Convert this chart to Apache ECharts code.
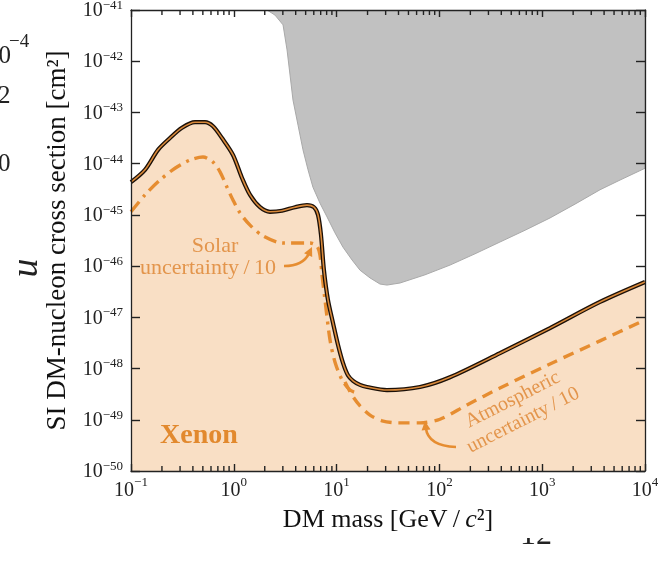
<!DOCTYPE html>
<html><head><meta charset="utf-8">
<script src="https://cdn.jsdelivr.net/npm/echarts@6/dist/echarts.min.js"></script>
<style>html,body{margin:0;padding:0;background:#fff}#c{width:658px;height:561px}</style>
</head><body><div id="c"></div>
<script>
// ---- data (log10 of mass in GeV/c^2, log10 of cross section in cm^2) ----
const xenonLogMass  = [-1.000,-0.864,-0.737,-0.621,-0.504,-0.377,-0.280,-0.202,-0.115,-0.008,0.080,0.158,0.255,0.352,0.469,0.595,0.712,0.780,0.819,0.848,0.877,0.916,0.965,1.014,1.062,1.110,1.160,1.228,1.296,1.490,1.811,2.103,2.589,3.076,3.562,4.000];
const xenonLogSigma = [-44.36,-44.12,-43.73,-43.50,-43.30,-43.19,-43.19,-43.27,-43.50,-43.83,-44.28,-44.61,-44.85,-44.94,-44.92,-44.85,-44.81,-44.85,-45.00,-45.39,-46.08,-46.66,-47.11,-47.54,-47.89,-48.13,-48.24,-48.32,-48.36,-48.42,-48.36,-48.17,-47.70,-47.21,-46.70,-46.31];

const solarLogMass  = [-1.000,-0.864,-0.718,-0.572,-0.426,-0.300,-0.202,-0.134,-0.066,-0.008,0.060,0.158,0.284,0.479,0.644,0.741,0.809,0.838,0.858,0.887,0.936,0.984,1.053,1.130,1.208];
const solarLogSigma = [-44.94,-44.61,-44.32,-44.09,-43.93,-43.87,-43.97,-44.16,-44.46,-44.71,-44.96,-45.20,-45.41,-45.55,-45.55,-45.55,-45.61,-45.78,-46.17,-46.66,-47.44,-47.87,-48.22,-48.42,-48.48];

const atmoLogMass  = [1.082,1.150,1.228,1.325,1.442,1.588,1.811,2.006,2.268,2.589,3.076,3.562,4.000];
const atmoLogSigma = [-48.26,-48.52,-48.73,-48.91,-49.02,-49.06,-49.06,-48.99,-48.71,-48.38,-47.91,-47.46,-47.05];

const limitLogMass  = [0.323,0.401,0.479,0.518,0.547,0.576,0.625,0.673,0.722,0.770,0.838,0.907,0.984,1.062,1.150,1.228,1.325,1.422,1.490,1.617,1.860,2.103,2.346,2.589,2.833,3.076,3.319,3.562,3.757,4.000];
const limitLogSigma = [-41.00,-41.10,-41.29,-41.78,-42.27,-42.76,-43.25,-43.73,-44.12,-44.46,-44.77,-45.04,-45.35,-45.63,-45.88,-46.08,-46.23,-46.35,-46.37,-46.33,-46.17,-45.98,-45.76,-45.53,-45.30,-45.06,-44.79,-44.51,-44.32,-44.09];

const xRangeExp = [-1, 4];     // 10^-1 ... 10^4 GeV/c^2
const yRangeExp = [-50, -41];  // 10^-50 ... 10^-41 cm^2
const minorMultipliers = [2,3,4,5,6,7,8,9];

// The y axis is plotted in units of 10^-50 cm^2 (keeps numbers well inside float precision);
// tick labels are converted back to cm^2.
const Y_UNIT_EXP = yRangeExp[0];
const toX = lx => Math.pow(10, lx);
const toY = ly => Math.pow(10, ly - Y_UNIT_EXP);
const pairs = (lx, ly) => lx.map((v, i) => [toX(v), toY(ly[i])]);
const xMin = toX(xRangeExp[0]), xMax = toX(xRangeExp[1]);
const yMin = toY(yRangeExp[0]), yMax = toY(yRangeExp[1]);
const minorX = [];
for (let e = xRangeExp[0]; e < xRangeExp[1]; e++) minorMultipliers.forEach(m => minorX.push(m * Math.pow(10, e)));

const SERIF = '"Liberation Serif", "DejaVu Serif", serif';
const supLabel = e => '{b|10}{s|' + (e < 0 ? '\u2212' : '') + Math.abs(e) + '}';
const xLabel = v => supLabel(Math.round(Math.log10(v)));
const yLabel = v => supLabel(Math.round(Math.log10(v)) + Y_UNIT_EXP);
const richX = { b: {fontFamily: SERIF, fontSize: 20, color: '#222', lineHeight: 25, verticalAlign: 'bottom'},
                s: {fontFamily: SERIF, fontSize: 13, color: '#222', lineHeight: 15, verticalAlign: 'top'} };
const richY = { b: {fontFamily: SERIF, fontSize: 20, color: '#222', lineHeight: 22, verticalAlign: 'bottom'},
                s: {fontFamily: SERIF, fontSize: 13, color: '#222', lineHeight: 14, verticalAlign: 'top'} };

const ORANGE = '#e68d31';
const AX = '#222';

const chart = echarts.init(document.getElementById('c'), null, {renderer: 'canvas', width: 658, height: 561});

const axisCommon = {
  type: 'log', logBase: 10, splitLine: {show: false}, z: 10,
  axisLine: {show: true, lineStyle: {color: AX, width: 1.3}},
};

const xenonPts = pairs(xenonLogMass, xenonLogSigma);
const limitPts = pairs(limitLogMass, limitLogSigma);

function fillSeries(pts, closing, color, stroke, z) {
  return {
    type: 'custom', data: [[xMin, yMin]], z: z, silent: true, clip: true,
    renderItem: function (params, api) {
      const poly = pts.concat(closing).map(p => api.coord(p));
      return {type: 'polygon', shape: {points: poly},
              style: {fill: color, stroke: stroke || null, lineWidth: stroke ? 1 : 0}};
    }
  };
}

// minor ticks of the log x axis, positioned through the axis scale
const minorTickSeries = {
  type: 'custom', data: [[xMin, yMin]], z: 12, silent: true,
  renderItem: function (params, api) {
    const kids = [];
    minorX.forEach(x => {
      const b = api.coord([x, yMin]);
      const t = api.coord([x, yMax]);
      kids.push({type: 'rect', shape: {x: b[0] - 0.7, y: b[1] - 5, width: 1.4, height: 5}, style: {fill: AX}});
      kids.push({type: 'rect', shape: {x: t[0] - 0.7, y: t[1], width: 1.4, height: 5}, style: {fill: AX}});
    });
    return {type: 'group', children: kids};
  }
};

const option = {
  animation: false,
  backgroundColor: '#fff',
  grid: {left: 131, right: 13, top: 10, bottom: 90, containLabel: false, outerBoundsMode: 'none'},
  xAxis: [
    Object.assign({}, axisCommon, {
      position: 'bottom', min: xMin, max: xMax, splitNumber: 5,
      axisTick: {show: true, inside: true, length: 7, lineStyle: {color: AX, width: 1.4}},
      axisLabel: {show: true, margin: 5, formatter: xLabel, rich: richX, showMinLabel: true, showMaxLabel: true},
      name: '{n|DM mass [GeV\u2009/\u2009}{i|c}{n|\u00b2]}', nameLocation: 'middle', nameGap: 36,
      nameTextStyle: {rich: {n: {fontFamily: SERIF, fontSize: 26, color: '#111'}, i: {fontFamily: SERIF, fontStyle: 'italic', fontSize: 26, color: '#111'}}}
    }),
    Object.assign({}, axisCommon, {
      position: 'top', min: xMin, max: xMax, splitNumber: 5,
      axisTick: {show: true, inside: true, length: 7, lineStyle: {color: AX, width: 1.4}},
      axisLabel: {show: false}
    })
  ],
  yAxis: [
    Object.assign({}, axisCommon, {
      position: 'left', min: yMin, max: yMax, splitNumber: 9,
      axisTick: {show: true, inside: true, length: 9, lineStyle: {color: AX, width: 1.4}},
      axisLabel: {show: true, margin: 8, formatter: yLabel, rich: richY, showMinLabel: true, showMaxLabel: true},
      name: 'SI DM-nucleon cross section [cm\u00b2]', nameLocation: 'middle', nameGap: 44, nameRotate: 90,
      nameTextStyle: {fontFamily: SERIF, fontSize: 27, color: '#111'}
    }),
    Object.assign({}, axisCommon, {
      position: 'right', min: yMin, max: yMax, splitNumber: 9,
      axisTick: {show: true, inside: true, length: 9, lineStyle: {color: AX, width: 1.4}},
      axisLabel: {show: false}
    })
  ],
  series: [
    // existing exclusion limits: region above the curve
    fillSeries(limitPts, [[xMax, yMax]], '#c1c1c1', '#a9a9a9', 1),
    // xenon neutrino floor: region below the curve
    fillSeries(xenonPts, [[xMax, yMin], [xMin, yMin]], '#f9dfc5', null, 2),
    { // solar uncertainty /10
      type: 'line', data: pairs(solarLogMass, solarLogSigma), showSymbol: false, smooth: 0.3,
      lineStyle: {color: ORANGE, width: 3.4, type: [13, 6, 3, 6], cap: 'butt'}, z: 3
    },
    { // atmospheric uncertainty /10
      type: 'line', data: pairs(atmoLogMass, atmoLogSigma), showSymbol: false, smooth: 0.3,
      lineStyle: {color: ORANGE, width: 3.4, type: [11, 7], cap: 'butt'}, z: 3
    },
    { // xenon floor outline
      type: 'line', data: xenonPts, showSymbol: false, smooth: 0.3,
      lineStyle: {color: '#1b1008', width: 4.2}, z: 4
    },
    {
      type: 'line', data: xenonPts, showSymbol: false, smooth: 0.3,
      lineStyle: {color: '#d9893a', width: 1.6}, z: 5
    },
    minorTickSeries
  ]
};
chart.setOption(option);

// ---- annotations ----
function arrow(x0, y0, cx, cy, x1, y1, color) {
  const dx = x1 - cx, dy = y1 - cy, L = Math.hypot(dx, dy);
  const ux = dx / L, uy = dy / L, px = -uy, py = ux;
  const hl = 9, hw = 4.5;
  const bx = x1 - ux * hl, by = y1 - uy * hl;
  return [
    {type: 'bezierCurve', shape: {x1: x0, y1: y0, cpx1: cx, cpy1: cy, x2: bx + ux * 2, y2: by + uy * 2},
     style: {stroke: color, lineWidth: 2.6, fill: null}, z: 20},
    {type: 'polygon', shape: {points: [[x1, y1], [bx + px * hw, by + py * hw], [bx - px * hw, by - py * hw]]},
     style: {fill: color}, z: 20}
  ];
}
const LBL = '#e3954c';
const graphics = [
  {type: 'text', z: 20, style: {x: 215, y: 246, text: 'Solar', font: '22px ' + SERIF, fill: LBL, align: 'center', verticalAlign: 'middle'}},
  {type: 'text', z: 20, style: {x: 208, y: 268, text: 'uncertainty\u2009/\u200910', font: '22px ' + SERIF, fill: LBL, align: 'center', verticalAlign: 'middle'}},
  {type: 'text', z: 20, x: 518, y: 410, rotation: 0.47,
   style: {x: 0, y: 0, text: 'Atmospheric\nuncertainty\u2009/\u200910', font: '20px ' + SERIF, fill: LBL, align: 'center', verticalAlign: 'middle', lineHeight: 23}},
  {type: 'text', z: 20, style: {x: 160, y: 436, text: 'Xenon', font: 'bold 28px ' + SERIF, fill: '#e2892e', align: 'left', verticalAlign: 'middle'}},
  // fragments of the neighbouring figure
  {type: 'text', z: 20, style: {x: -14, y: 56, text: '10', font: '25px ' + SERIF, fill: '#222', align: 'left', verticalAlign: 'middle'}},
  {type: 'text', z: 20, style: {x: 9, y: 42, text: '\u22124', font: '19px ' + SERIF, fill: '#222', align: 'left', verticalAlign: 'middle'}},
  {type: 'text', z: 20, style: {x: -2, y: 96, text: '2', font: '25px ' + SERIF, fill: '#222', align: 'left', verticalAlign: 'middle'}},
  {type: 'text', z: 20, style: {x: -2, y: 164, text: '0', font: '25px ' + SERIF, fill: '#222', align: 'left', verticalAlign: 'middle'}},
  {type: 'text', z: 20, x: 27, y: 268, rotation: Math.PI / 2,
   style: {x: 0, y: 0, text: 'u', font: 'italic 38px ' + SERIF, fill: '#222', align: 'center', verticalAlign: 'middle'}},
  {type: 'text', z: 20, style: {x: 520, y: 552, text: '12', font: '32px ' + SERIF, fill: '#222', align: 'left', verticalAlign: 'bottom'}},
  {type: 'rect', z: 21, shape: {x: 505, y: 505, width: 70, height: 33}, style: {fill: '#fff'}}
].concat(arrow(284, 266, 303, 266, 312, 247, ORANGE))
 .concat(arrow(456, 447, 428, 446, 425, 421, ORANGE));
chart.setOption({graphic: graphics});
</script>
</body></html>
